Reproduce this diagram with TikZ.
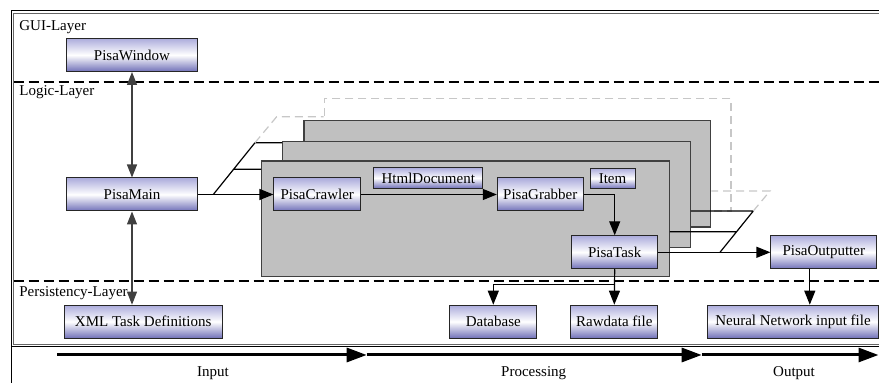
\documentclass[tikz,border=0pt]{standalone}
\usepackage{fontspec}
\setmainfont{Liberation Serif}
\usetikzlibrary{arrows.meta}
\definecolor{lavtop}{RGB}{172,172,220}
\definecolor{lavbot}{RGB}{112,112,184}
\definecolor{panelgray}{RGB}{192,192,192}
\begin{document}
\begin{tikzpicture}[x=0.5pt, y=-0.5pt, font=\fontsize{7.5}{9}\selectfont]
\tikzstyle{box}=[draw=black!85, line width=0.5pt, top color=lavtop, bottom color=lavbot, middle color=white, inner sep=0pt, minimum height=16.5pt]
\tikzstyle{panel}=[draw=black!75, fill=panelgray, line width=0.6pt, inner sep=0pt]
\tikzstyle{ghost}=[draw=black!22, line width=0.6pt, dash pattern=on 4pt off 2.5pt]
\tikzstyle{layer}=[draw=black, line width=0.7pt, dash pattern=on 5pt off 2.5pt]
\tikzstyle{flow}=[line width=0.6pt, -{Triangle[length=7pt,width=5.5pt]}]
\tikzstyle{both}=[line width=0.6pt, black!75, {Triangle[length=6.5pt,width=5pt]}-{Triangle[length=6.5pt,width=5pt]}]
\tikzstyle{phase}=[line width=1.5pt, -{Triangle[length=10pt,width=7pt]}]
\clip (0,0) rectangle (879,383);
% frames
\draw[line width=0.5pt] (11,11) rectangle (900,400);
\draw[black!60, line width=0.5pt] (13.5,13.5) rectangle (900,344.5);
\draw[line width=0.5pt] (11,346.5) -- (900,346.5);
% layers
\draw[layer] (13.5,82) -- (900,82);
\draw[layer] (13.5,281) -- (900,281);
\node[anchor=west, inner sep=0pt] (gui) at (19,27) {GUI-Layer};
\node[anchor=west, inner sep=0pt] (logic) at (19,92) {Logic-Layer};
\node[anchor=west, inner sep=0pt] (pers) at (19,293) {Persistency-Layer};
% stacked task panels
\node[ghost, fill=white, minimum width=203.35pt, minimum height=56.35pt] (p3) at (527.65,154.65) {};
\node[panel, minimum width=203.35pt, minimum height=53.15pt] (p2) at (507.35,173.85) {};
\node[panel, minimum width=203.8pt, minimum height=53pt] (p1) at (486.5,194.7) {};
\node[panel, minimum width=203.8pt, minimum height=57.85pt] (p0) at (465.5,218.85) {};
% boxes
\node[box, minimum width=65.5pt] (win) at (132,55) {PisaWindow};
\node[box, minimum width=65.5pt] (main) at (132,194.5) {PisaMain};
\node[box, minimum width=79.2pt] (xml) at (143.2,321.7) {XML Task Definitions};
\node[box, minimum width=43.4pt] (crawler) at (317.3,194.5) {PisaCrawler};
\node[box, minimum width=54.4pt, minimum height=10.3pt] (html) at (428.3,178) {HtmlDocument};
\node[box, minimum width=43pt] (grabber) at (540.3,194.5) {PisaGrabber};
\node[box, minimum width=22.5pt, minimum height=10.2pt] (item) at (612.5,178.5) {Item};
\node[box, minimum width=43pt] (task) at (614.7,252.3) {PisaTask};
\node[box, minimum width=52.9pt] (outp) at (823.8,252.3) {PisaOutputter};
\node[box, minimum width=43.4pt] (db) at (493.3,321.7) {Database};
\node[box, minimum width=43.4pt] (raw) at (614.3,321.7) {Rawdata file};
\node[box, minimum width=85.3pt] (nn) at (793,321.7) {Neural Network input file};
% fan in / fan out
\coordinate (j0) at (213.3,194.5);
\coordinate (j1) at (233.6,169.3);
\coordinate (j2) at (255,142.7);
\coordinate (j3) at (276.7,116.7);
\coordinate (k0) at (720,252.3);
\coordinate (k1) at (736.6,231.7);
\coordinate (k2) at (753.3,211);
\coordinate (k3) at (770,191);
\draw[line width=0.6pt] (j0) -- (j2)
  (j1) -- (j1 -| p0.west)
  (j2) -- (j2 -| p1.west);
\draw[ghost] (j2) -- (j3) -- (j3 -| p3.west);
\draw[line width=0.6pt] (k0) -- (k2)
  (k1 -| p0.east) -- (k1)
  (k2 -| p1.east) -- (k2);
\draw[ghost] (k2) -- (k3) -- (k3 -| p2.east);
% connectors
\draw[both] (win) -- (main);
\draw[both] (main.south) -- (main.south |- xml.north);
\draw[flow] (main) -- (crawler);
\draw[flow] (crawler) -- (grabber);
\draw[flow] (grabber.east) -| (task.north);
\draw[flow] (task) -- (outp);
\draw[flow] (task.south) -- (raw.north);
\draw[flow] (task.south) -- ++(0,15.5) -| (db.north);
\draw[flow] ([xshift=-7pt]outp.south) -- ([xshift=-7pt]outp.south |- nn.north);
% phases
\coordinate (a0) at (57.3,355);
\coordinate (a1) at (366.7,355);
\coordinate (a2) at (701.7,355);
\coordinate (a3) at (878.5,355);
\draw[phase] (a0) -- (a1);
\draw[phase] (a1) -- (a2);
\draw[phase] (a2) -- (a3);
\node (input) at (213,373) {Input};
\node (proc) at (533.7,373) {Processing};
\node (out) at (794,373) {Output};
\end{tikzpicture}
\end{document}
